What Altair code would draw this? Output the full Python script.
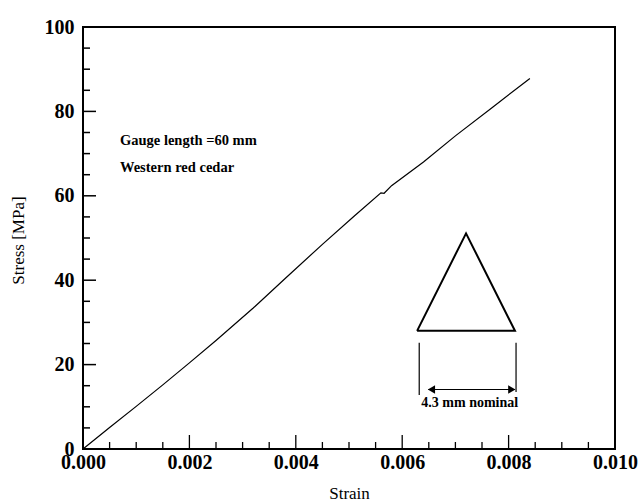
import altair as alt
import pandas as pd

# Stress-strain curve
strain = [0.0, 0.0005, 0.001, 0.0015, 0.002, 0.0025, 0.0032, 0.0038, 0.0045, 0.0051,
          0.0056, 0.00566, 0.0058, 0.0064, 0.0070, 0.0077, 0.0084]
stress = [0.0, 5.1, 10.1, 15.2, 20.4, 25.7, 33.4, 40.4, 48.5, 55.2,
          60.7, 60.6, 62.4, 68.0, 74.2, 81.0, 87.8]

# Axis tick values
x_major = [0.0, 0.002, 0.004, 0.006, 0.008, 0.010]
x_minor = [0.0005, 0.001, 0.0015, 0.0025, 0.003, 0.0035, 0.0045, 0.005, 0.0055,
           0.0065, 0.007, 0.0075, 0.0085, 0.009, 0.0095]
y_major = [0, 20, 40, 60, 80, 100]
y_minor = [5, 10, 15, 25, 30, 35, 45, 50, 55, 65, 70, 75, 85, 90, 95]

# Triangle cross-section sketch
tri_x = [0.00628, 0.00720, 0.00812, 0.00628]
tri_y = [28.0, 51.1, 28.0, 28.0]
# Dimension lines
dim_x1 = [0.00632, 0.00814, 0.00649]
dim_x2 = [0.00632, 0.00814, 0.00812]
dim_y1 = [12.8, 13.5, 14.1]
dim_y2 = [25.2, 25.2, 14.1]
arrow_x = [0.00655, 0.00806]
arrow_y = [14.1, 14.1]
arrow_shape = ["triangle-left", "triangle-right"]

notes = ["Gauge length =60 mm", "Western red cedar"]
notes_x = [0.000695, 0.000695]
notes_y = [73.0, 66.6]
dim_label = ["4.3 mm nominal"]
dim_label_x = [0.00727]
dim_label_y = [10.9]

W, H = 532, 422
SERIF = "Liberation Serif"

xs = alt.Scale(domain=[0, 0.01], nice=False)
ys = alt.Scale(domain=[0, 100], nice=False)

curve_df = pd.DataFrame({"strain": strain, "stress": stress})

base_x = alt.X("strain:Q", scale=xs,
               axis=alt.Axis(values=x_major, format=".3f", ticks=False, domain=False, grid=False,
                             labelFont=SERIF, labelFontWeight="bold", labelFontSize=20,
                             labelColor="black", labelPadding=3, labelFlush=False,
                             title="Strain", titleFont=SERIF, titleFontWeight="normal",
                             titleFontSize=17, titleColor="black", titleX=W / 2, titleY=44,
                             titleBaseline="middle", titleAlign="center"))
base_y = alt.Y("stress:Q", scale=ys,
               axis=alt.Axis(values=y_major, ticks=False, domain=False, grid=False,
                             labelFont=SERIF, labelFontWeight="bold", labelFontSize=20,
                             labelColor="black", labelPadding=9, labelFlush=False,
                             title="Stress [MPa]", titleFont=SERIF, titleFontWeight="normal",
                             titleFontSize=17, titleColor="black", titleX=-65, titleY=213,
                             titleBaseline="middle", titleAlign="center", titleAngle=-90))

curve = alt.Chart(curve_df).mark_line(color="black", strokeWidth=1.2).encode(
    x=base_x, y=base_y, order="strain:Q")

# Inward ticks
xmaj = alt.Chart(pd.DataFrame({"v": x_major})).mark_rule(color="black", strokeWidth=1.3).encode(
    x=alt.X("v:Q", scale=xs), y=alt.value(H), y2=alt.value(H - 14))
xmin = alt.Chart(pd.DataFrame({"v": x_minor})).mark_rule(color="black", strokeWidth=1.3).encode(
    x=alt.X("v:Q", scale=xs), y=alt.value(H), y2=alt.value(H - 7))
ymaj = alt.Chart(pd.DataFrame({"v": y_major})).mark_rule(color="black", strokeWidth=1.5).encode(
    y=alt.Y("v:Q", scale=ys), x=alt.value(0), x2=alt.value(13))
ymin = alt.Chart(pd.DataFrame({"v": y_minor})).mark_rule(color="black", strokeWidth=1.5).encode(
    y=alt.Y("v:Q", scale=ys), x=alt.value(0), x2=alt.value(7))

tri_df = pd.DataFrame({"x": tri_x, "y": tri_y, "o": list(range(len(tri_x)))})
tri = alt.Chart(tri_df).mark_line(color="black", strokeWidth=2).encode(
    x=alt.X("x:Q", scale=xs), y=alt.Y("y:Q", scale=ys), order="o:Q")

dim_df = pd.DataFrame({"x1": dim_x1, "x2": dim_x2, "y1": dim_y1, "y2": dim_y2})
dims = alt.Chart(dim_df).mark_rule(color="black", strokeWidth=1.2).encode(
    x=alt.X("x1:Q", scale=xs), x2="x2:Q", y=alt.Y("y1:Q", scale=ys), y2="y2:Q")

arr_df = pd.DataFrame({"x": arrow_x, "y": arrow_y, "s": arrow_shape})
arrows = alt.Chart(arr_df).mark_point(filled=True, color="black", size=70, opacity=1).encode(
    x=alt.X("x:Q", scale=xs), y=alt.Y("y:Q", scale=ys),
    shape=alt.Shape("s:N", scale=None, legend=None))

notes_df = pd.DataFrame({"x": notes_x, "y": notes_y, "t": notes})
notes_txt = alt.Chart(notes_df).mark_text(font=SERIF, fontWeight="bold", fontSize=14.5,
                                          align="left", baseline="middle", color="black").encode(
    x=alt.X("x:Q", scale=xs), y=alt.Y("y:Q", scale=ys), text="t:N")

dl_df = pd.DataFrame({"x": dim_label_x, "y": dim_label_y, "t": dim_label})
dl_txt = alt.Chart(dl_df).mark_text(font=SERIF, fontWeight="bold", fontSize=14,
                                    align="center", baseline="middle", color="black").encode(
    x=alt.X("x:Q", scale=xs), y=alt.Y("y:Q", scale=ys), text="t:N")

chart = alt.layer(curve, xmaj, xmin, ymaj, ymin, tri, dims, arrows, notes_txt, dl_txt).properties(
    width=W, height=H,
    autosize=alt.AutoSizeParams(type="none"),
    padding={"left": 83, "top": 27, "right": 23, "bottom": 54},
    background="white",
).configure_view(stroke="black", strokeWidth=2)

chart.save("out.html", embed_options={"renderer": "svg", "actions": False})
